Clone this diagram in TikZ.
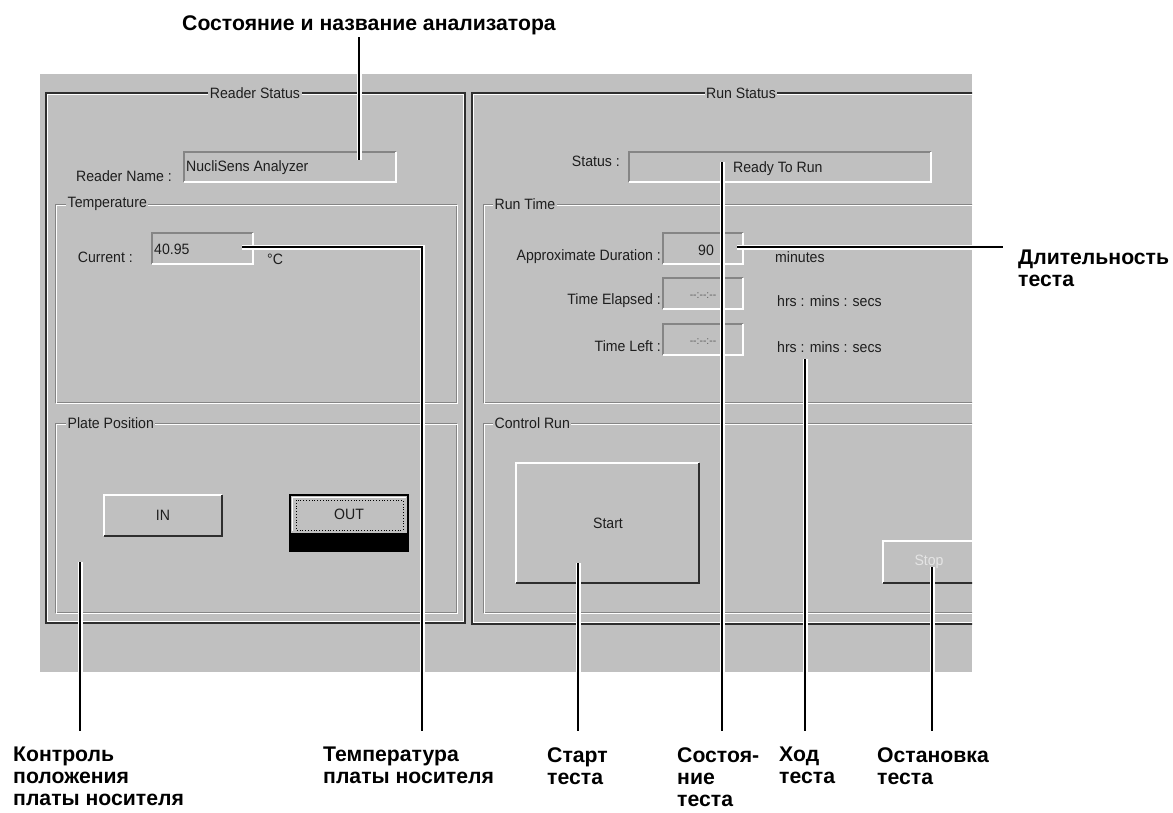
\documentclass[tikz,border=0pt]{standalone}
\usepackage{fontspec}
\setmainfont{Liberation Sans}
\newfontfamily\uifont[FakeStretch=0.94]{Liberation Sans}
\definecolor{winbg}{HTML}{C0C0C0}
\definecolor{edgegray}{HTML}{858585}
\definecolor{darkedge}{HTML}{2E2E2E}
\definecolor{uitext}{HTML}{1E1E1E}
\definecolor{distext}{HTML}{E4E4E4}
\newcommand\etchbox[4]{%
  \draw[edgegray, line width=1pt] (#1,#2) rectangle (#3,#4);
  \draw[white, line width=1pt] (#1+1.3,#2+1.3) rectangle (#3+1.3,#4+1.3);}
\newcommand\sunkfield[4]{%
  \draw[edgegray, line width=1.2pt] (#1,#4) |- (#3,#2);
  \draw[white, line width=1.2pt] (#1,#4) -| (#3,#2);}
\newcommand\raisedbtn[4]{%
  \draw[white, line width=1.3pt] (#1,#4) |- (#3,#2);
  \draw[darkedge, line width=2.2pt] (#1,#4) -| (#3,#2);}
\begin{document}
\begin{tikzpicture}[x=1pt,y=-1pt,
  ui/.style={font=\uifont\fontsize{15}{18}\selectfont, text=uitext, inner sep=0pt},
  uismall/.style={font=\uifont\fontsize{11}{13}\selectfont, text=uitext!70, inner sep=0pt},
  gtitle/.style={ui, fill=winbg, inner xsep=1.5pt, inner ysep=2pt},
  lab/.style={font=\bfseries\fontsize{21.2}{22}\selectfont, inner sep=0pt, align=left, text=black},
  leader/.style={line width=2.2pt, draw=black, preaction={draw=white, line width=5pt}},
]
\useasboundingbox (0,0) rectangle (1173,812);
\fill[white] (0,0) rectangle (1173,812);
\fill[winbg] (40,74) rectangle (972,672);

\begin{scope}
\clip (40,74) rectangle (972,672);
% Reader Status frame
\draw[darkedge, line width=1.3pt] (46,93) rectangle (465,623);
\draw[white, line width=1pt] (47.8,94.8) rectangle (463.2,621.2);
% Run Status frame
\draw[darkedge, line width=1.3pt] (472,93) rectangle (1000,624);
\draw[white, line width=1pt] (473.8,94.8) rectangle (998,622.2);
% group boxes
\etchbox{55}{204}{456}{402}
\etchbox{55}{423}{456}{612}
\etchbox{483}{204}{1000}{402}
\etchbox{483}{423}{1000}{612}
% titles
\node[gtitle] (tReader) at (255,93) {Reader Status};
\node[gtitle] (tRun) at (741,93) {Run Status};
\node[gtitle, anchor=west] (tTemp) at (66,204) {Temperature};
\node[gtitle, anchor=west] (tPlate) at (66,423) {Plate Position};
\node[gtitle, anchor=west] (tRunTime) at (493,204) {Run Time};
\node[gtitle, anchor=west] (tCtrl) at (493,423) {Control Run};

% fields
\sunkfield{184}{152}{396}{182}
\sunkfield{152}{233}{253}{264}
\sunkfield{629}{152}{931}{182}
\sunkfield{663}{233}{743}{264}
\sunkfield{663}{278}{743}{309}
\sunkfield{663}{324}{743}{355}

% texts reader side
\node[ui, anchor=east] (rn) at (172,176) {Reader Name :};
\node[ui, anchor=west] (rnv) at (186,168) {NucliSens Analyzer};
\node[ui, anchor=east] (cur) at (133,257) {Current :};
\node[ui, anchor=west] (curv) at (154,249) {40.95};
\node[ui, anchor=west] (degc) at (267,259) {°C};

% IN / OUT buttons
\raisedbtn{104}{495}{222}{536}
\node[ui] (btnin) at (163,515) {IN};
\fill[black] (290,533) rectangle (408,551);
\draw[black, line width=2pt] (290,495) rectangle (408,551);
\draw[white, line width=1pt] (292.5,531) |- (406,497.5);
\draw[black, line width=0.8pt, dotted] (296,500) rectangle (403,530);
\node[ui] (btnout) at (349,514) {OUT};

% run side texts
\node[ui, anchor=east] (st) at (620,161) {Status :};
\node[ui, anchor=west] (stv) at (733,169) {Ready To Run};
\node[ui, anchor=east] (ad) at (661,257) {Approximate Duration :};
\node[ui] (adv) at (706,250) {90};
\node[ui, anchor=west] (mins) at (775,257) {minutes};
\node[ui, anchor=east] (te) at (661,301) {Time Elapsed :};
\node[uismall] (tev) at (703,296) {--:--:--};
\node[ui, anchor=west] (hrsA) at (777,301) {hrs : mins : secs};
\node[ui, anchor=east] (tl) at (661,346) {Time Left :};
\node[uismall] (tlv) at (703,342) {--:--:--};
\node[ui, anchor=west] (hrsB) at (777,347) {hrs : mins : secs};

% Start / Stop
\raisedbtn{516}{463}{699}{583}
\node[ui] (start) at (608,523) {Start};
\raisedbtn{883}{541}{1010}{583}
\node[ui, text=distext] (stop) at (929,562) {Stop};
\end{scope}

% leader end points
\coordinate (a1) at (359,37);  \coordinate (a2) at (359,160);
\coordinate (b1) at (242,247); \coordinate (b2) at (422,731);
\coordinate (c1) at (737,247); \coordinate (c2) at (1003,247);
\coordinate (d1) at (722,162); \coordinate (d2) at (722,731);
\coordinate (e1) at (805,359); \coordinate (e2) at (805,731);
\coordinate (f1) at (578,563); \coordinate (f2) at (578,731);
\coordinate (g1) at (932,567); \coordinate (g2) at (932,731);
\coordinate (h1) at (80,562);  \coordinate (h2) at (80,731);

\draw[leader] (a1) -- (a2);
\draw[leader] (b1) -| (b2);
\draw[leader] (c1) -- (c2);
\draw[leader] (d1) -- (d2);
\draw[leader] (e1) -- (e2);
\draw[leader] (f1) -- (f2);
\draw[leader] (g1) -- (g2);
\draw[leader] (h1) -- (h2);

% labels
\node[lab, anchor=base west] (lTitle) at (182,30) {Состояние и название анализатора};
\node[lab, anchor=north west] (lDur) at (1018,250) {Длительность\\теста};
\node[lab, anchor=north west] (lPlate) at (13,747) {Контроль\\положения\\платы носителя};
\node[lab, anchor=north west] (lTemp) at (323,747) {Температура\\платы носителя};
\node[lab, anchor=north west] (lStart) at (547,747) {Старт\\теста};
\node[lab, anchor=north west] (lState) at (677,747) {Состоя-\\ние\\теста};
\node[lab, anchor=north west] (lProg) at (779,747) {Ход\\теста};
\node[lab, anchor=north west] (lStop) at (877,747) {Остановка\\теста};
\end{tikzpicture}
\end{document}
